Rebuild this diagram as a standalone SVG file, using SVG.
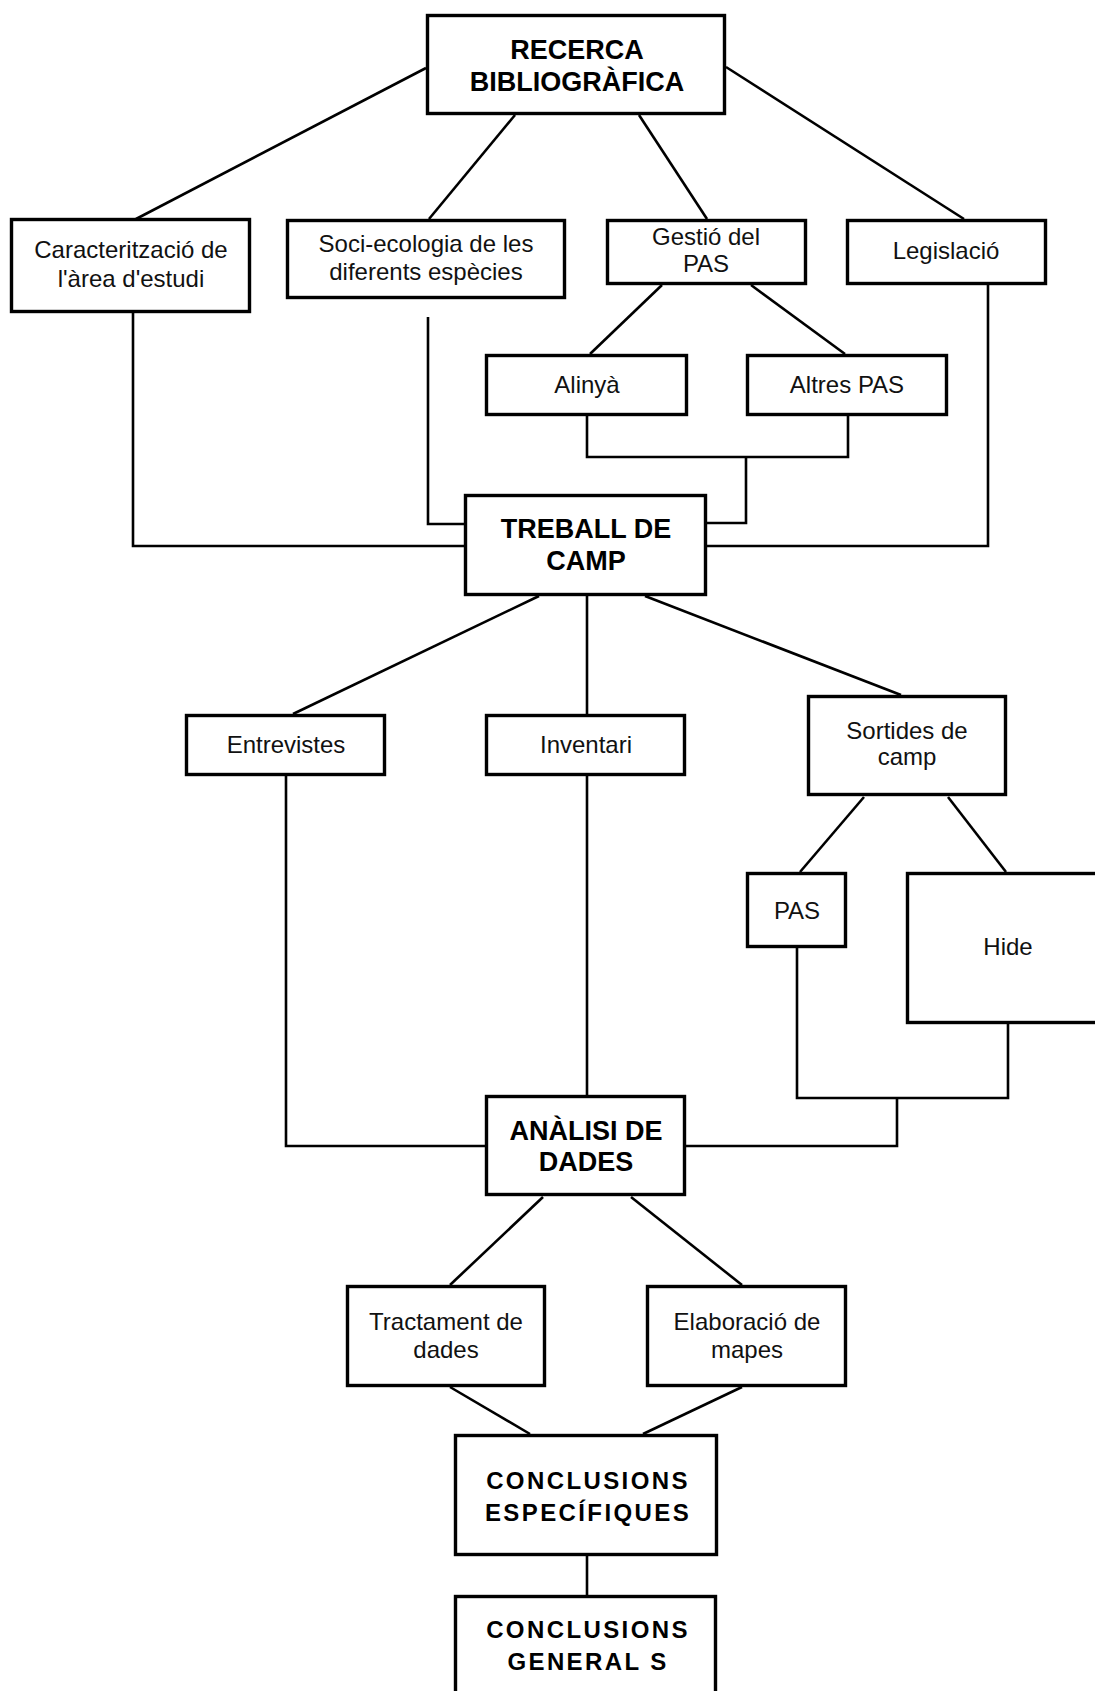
<svg xmlns="http://www.w3.org/2000/svg" width="1095" height="1691" viewBox="0 0 1095 1691">
<style>
.box{fill:#fff;stroke:#000;stroke-width:3.4}
.c{fill:none;stroke:#000;stroke-width:2.6}
.t{font-family:"Liberation Sans",Arial,sans-serif;font-size:24px;text-anchor:middle;fill:#111}
.b{font-family:"Liberation Sans",Arial,sans-serif;font-size:27px;font-weight:bold;text-anchor:middle;fill:#000}
.w{font-family:"Liberation Sans",Arial,sans-serif;font-size:24px;font-weight:bold;text-anchor:middle;fill:#000;letter-spacing:2.4px}
</style>
<rect width="1095" height="1691" fill="#fff"/>
<g id="connectors">
<line class="c" x1="426" y1="68" x2="136" y2="219"/>
<line class="c" x1="515" y1="115" x2="429" y2="219"/>
<line class="c" x1="639" y1="115" x2="707" y2="219"/>
<line class="c" x1="726" y1="67" x2="964" y2="219"/>
<line class="c" x1="662" y1="285" x2="590" y2="354"/>
<line class="c" x1="751" y1="285" x2="845" y2="354"/>
<path class="c" d="M587,416 V457 H848 V416"/>
<path class="c" d="M746,457 V523 H707"/>
<path class="c" d="M428,317 V524 H464"/>
<path class="c" d="M133,313 V546 H464"/>
<path class="c" d="M988,285 V546 H707"/>
<line class="c" x1="539" y1="596" x2="293" y2="714"/>
<line class="c" x1="587" y1="596" x2="587" y2="714"/>
<line class="c" x1="645" y1="596" x2="901" y2="695"/>
<line class="c" x1="864" y1="797" x2="800" y2="872"/>
<line class="c" x1="948" y1="797" x2="1006" y2="872"/>
<path class="c" d="M797,948 V1098 H1008 V1024"/>
<path class="c" d="M897,1098 V1146 H686"/>
<path class="c" d="M286,776 V1146 H485"/>
<line class="c" x1="587" y1="776" x2="587" y2="1095"/>
<line class="c" x1="543" y1="1197" x2="450" y2="1285"/>
<line class="c" x1="631" y1="1197" x2="742" y2="1285"/>
<line class="c" x1="450" y1="1387" x2="530" y2="1434"/>
<line class="c" x1="742" y1="1387" x2="643" y2="1434"/>
<line class="c" x1="587" y1="1556" x2="587" y2="1595"/>
</g>
<g id="recerca"><rect class="box" x="427.5" y="15.5" width="297" height="98"/><text class="b" x="577" y="59">RECERCA</text><text class="b" x="577" y="91">BIBLIOGRÀFICA</text></g>
<g id="caracteritzacio"><rect class="box" x="11.5" y="219.5" width="238" height="92"/><text class="t" x="131" y="258">Caracterització de</text><text class="t" x="131" y="287">l'àrea d'estudi</text></g>
<g id="socioecologia"><rect class="box" x="287.5" y="220.5" width="277" height="77"/><text class="t" x="426" y="252">Soci-ecologia de les</text><text class="t" x="426" y="280">diferents espècies</text></g>
<g id="gestio"><rect class="box" x="607.5" y="220.5" width="198" height="63"/><text class="t" x="706" y="245">Gestió del</text><text class="t" x="706" y="272">PAS</text></g>
<g id="legislacio"><rect class="box" x="847.5" y="220.5" width="198" height="63"/><text class="t" x="946" y="259">Legislació</text></g>
<g id="alinya"><rect class="box" x="486.5" y="355.5" width="200" height="59"/><text class="t" x="587" y="393">Alinyà</text></g>
<g id="altrespas"><rect class="box" x="747.5" y="355.5" width="199" height="59"/><text class="t" x="847" y="393">Altres PAS</text></g>
<g id="treball"><rect class="box" x="465.5" y="495.5" width="240" height="99"/><text class="b" x="586" y="538">TREBALL DE</text><text class="b" x="586" y="570">CAMP</text></g>
<g id="entrevistes"><rect class="box" x="186.5" y="715.5" width="198" height="59"/><text class="t" x="286" y="753">Entrevistes</text></g>
<g id="inventari"><rect class="box" x="486.5" y="715.5" width="198" height="59"/><text class="t" x="586" y="753">Inventari</text></g>
<g id="sortides"><rect class="box" x="808.5" y="696.5" width="197" height="98"/><text class="t" x="907" y="739">Sortides de</text><text class="t" x="907" y="765">camp</text></g>
<g id="pas"><rect class="box" x="747.5" y="873.5" width="98" height="73"/><text class="t" x="797" y="919">PAS</text></g>
<g id="hide"><rect class="box" x="907.5" y="873.5" width="200" height="149"/><text class="t" x="1008" y="955">Hide</text></g>
<g id="analisi"><rect class="box" x="486.5" y="1096.5" width="198" height="98"/><text class="b" x="586" y="1140">ANÀLISI DE</text><text class="b" x="586" y="1171">DADES</text></g>
<g id="tractament"><rect class="box" x="347.5" y="1286.5" width="197" height="99"/><text class="t" x="446" y="1330">Tractament de</text><text class="t" x="446" y="1358">dades</text></g>
<g id="elaboracio"><rect class="box" x="647.5" y="1286.5" width="198" height="99"/><text class="t" x="747" y="1330">Elaboració de</text><text class="t" x="747" y="1358">mapes</text></g>
<g id="conclusions-especifiques"><rect class="box" x="455.5" y="1435.5" width="261" height="119"/><text class="w" x="588" y="1489">CONCLUSIONS</text><text class="w" x="588" y="1521">ESPECÍFIQUES</text></g>
<g id="conclusions-generals"><rect class="box" x="455.5" y="1596.5" width="260" height="130"/><text class="w" x="588" y="1638">CONCLUSIONS</text><text class="w" x="588" y="1670">GENERAL S</text></g>
</svg>
